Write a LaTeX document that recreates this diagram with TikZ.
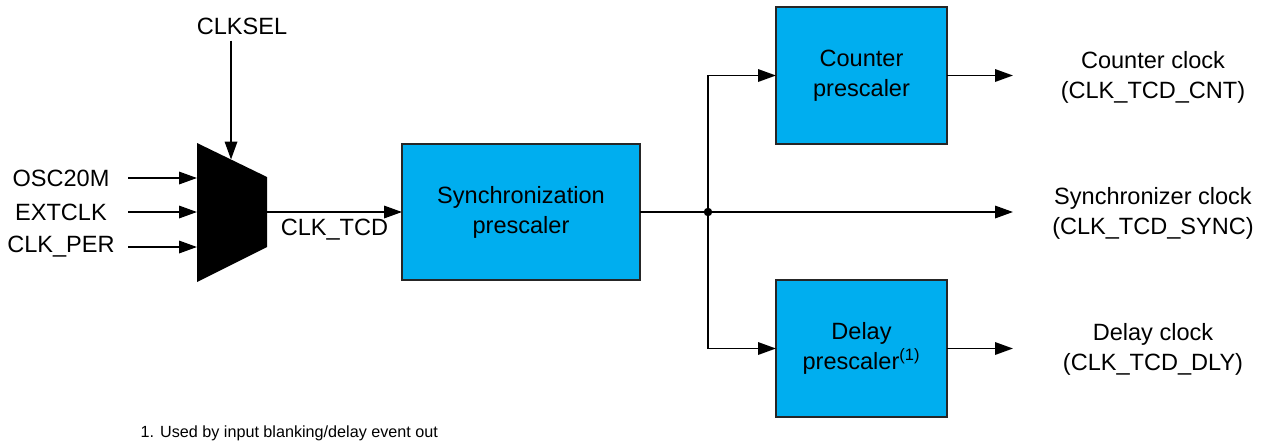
\documentclass[tikz,border=0pt]{standalone}
\usepackage{fontspec}
\setmainfont{Liberation Sans}
\usetikzlibrary{positioning,arrows.meta,calc}
\definecolor{tcdblue}{RGB}{0,174,239}

\begin{document}
\begin{tikzpicture}[
    every node/.style={font=\fontsize{13.4}{17}\selectfont, align=center},
    block/.style={draw=black!85, line width=1pt, fill=tcdblue, outer sep=0pt, minimum width=3.42cm, minimum height=2.74cm},
    sig/.style={line width=1pt, -{Triangle[length=0.36cm,width=0.25cm]}}
]
    \useasboundingbox (0,0) rectangle (25.34,-8.88);

    % clock select mux
    \coordinate (mux-tl) at (3.94,-2.86);
    \coordinate (mux-bl) at (3.94,-5.64);
    \coordinate (mux-tr) at (5.34,-3.54);
    \coordinate (mux-br) at (5.34,-4.94);
    \fill (mux-tl) -- (mux-tr) -- (mux-br) -- (mux-bl) -- cycle;
    \coordinate (mux-out) at ($(mux-tr)!0.5!(mux-br)$);
    \coordinate (sel) at ($(mux-tl)!0.486!(mux-tr)$);
    \coordinate (inx) at (2.56,0);
    \coordinate (outx) at (20.26,0);

    \node (clksel) at (4.84,-0.52) {CLKSEL};
    \node (osc) at (1.22,-3.56) {OSC20M};
    \node (ext) at (1.22,-4.24) {EXTCLK};
    \node (per) at (1.22,-4.94) {CLK\_PER};

    \node[block, minimum width=4.76cm, minimum height=2.72cm] (sync) at (10.42,-4.24) {Synchronization\\prescaler};
    \node[block, above right=0cm and 2.72cm of sync] (cnt) {Counter\\prescaler};
    \node[block, below right=0cm and 2.72cm of sync] (dly) {Delay\\prescaler\textsuperscript{(1)}};
    \coordinate (split) at ([xshift=1.36cm]sync.east);

    \node (cntclk) at (23.06,-1.54) {Counter clock\\(CLK\_TCD\_CNT)};
    \node (syncclk) at (23.06,-4.26) {Synchronizer clock\\(CLK\_TCD\_SYNC)};
    \node (dlyclk) at (23.06,-6.98) {Delay clock\\(CLK\_TCD\_DLY)};

    \node[anchor=west, font=\fontsize{9.2}{11}\selectfont] (note) at (2.69,-8.66) {1. Used by input blanking/delay event out};

    \draw[sig] (sel |- clksel.south) -- (sel);
    \draw[sig] (osc.center -| inx) -- (osc.center -| mux-tl);
    \draw[sig] (ext.center -| inx) -- (ext.center -| mux-tl);
    \draw[sig] (per.center -| inx) -- (per.center -| mux-tl);
    \draw[sig] (mux-out) -- node[below]{CLK\_TCD} (sync.west);

    \draw[line width=1pt] (sync.east) -- (split);
    \fill (split) circle (0.085);
    \draw[sig] (split) |- (cnt.west);
    \draw[sig] (split) |- (dly.west);
    \draw[sig] (split) -- (split -| outx);
    \draw[sig] (cnt.east) -- (cnt.east -| outx);
    \draw[sig] (dly.east) -- (dly.east -| outx);
\end{tikzpicture}
\end{document}
